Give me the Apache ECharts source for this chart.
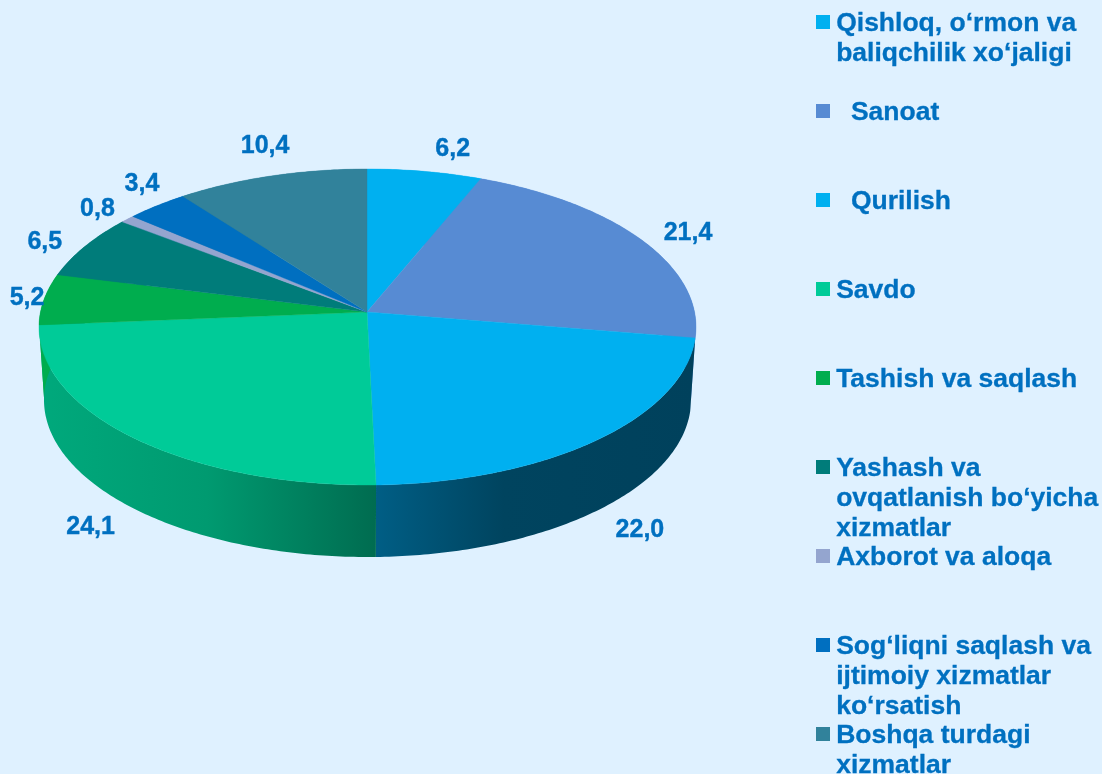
<!DOCTYPE html>
<html>
<head>
<meta charset="utf-8">
<style>html,body{margin:0;padding:0;background:#dff1ff}#c{width:1102px;height:774px}</style>
<script src="https://cdn.jsdelivr.net/npm/echarts@6/dist/echarts.min.js"></script>
</head>
<body>
<div id="c"></div>
<script>
const categories = [
  "Qishloq, o‘rmon va\nbaliqchilik xo‘jaligi",
  "  Sanoat",
  "  Qurilish",
  "Savdo",
  "Tashish va saqlash",
  "Yashash va\novqatlanish bo‘yicha\nxizmatlar",
  "Axborot va aloqa",
  "Sog‘liqni saqlash va\nijtimoiy xizmatlar\nko‘rsatish",
  "Boshqa turdagi\nxizmatlar"
];
const shares = [6.2, 21.4, 22.0, 24.1, 5.2, 6.5, 0.8, 3.4, 10.4];
const shareLabels = ["6,2", "21,4", "22,0", "24,1", "5,2", "6,5", "0,8", "3,4", "10,4"];
const colors = ["#00b0f0", "#578bd3", "#00b0f0", "#00cb98", "#00ad4e", "#007c7a", "#94a5cf", "#006fc0", "#31829b"];

// Drawing geometry: the perspective pie
const INK = "#0070c0";
const FONT = '"Liberation Sans", Arial, sans-serif';
const apex = {x: 367, y: 312};
const topRim = {cx: 367.5, cy: 327, rx: 328.5, ry: 158};
const baseRim = {cx: 367.5, cy: 400, rx: 323.5, ry: 157};
const labelNudge = [[28,-22],[48,-6],[42,91],[-42,90],[-17,-1],[-40,-4],[-30,-10],[-15,-22],[-6,-30]];
const sideShades = {
  2: [[0,"#005e85"],[0.4,"#00445f"],[1,"#00415c"]],
  3: [[0,"#00a97c"],[0.5,"#009a70"],[1,"#006c50"]]
};
const total = shares.reduce((a,b)=>a+b,0);
const cumulative = shares.map((_,i)=>shares.slice(0,i).reduce((a,b)=>a+b,0));

function rimPhi(theta){
  const s=Math.sin(theta), c=Math.cos(theta);
  const ox=(apex.x-topRim.cx)/topRim.rx, oy=(apex.y-topRim.cy)/topRim.ry;
  const b=ox*s-oy*c, k=ox*ox+oy*oy-1;
  const t=-b+Math.sqrt(b*b-k);
  return Math.atan2(oy-t*c, ox+t*s);
}
const onRim=(r,phi)=>[r.cx+r.rx*Math.cos(phi), r.cy+r.ry*Math.sin(phi)];
function angles(i,val){
  const a=cumulative[i]/total*2*Math.PI, b=a+val/total*2*Math.PI;
  const n=Math.max(4,Math.ceil((b-a)*80)), out=[];
  for(let k=0;k<=n;k++) out.push(a+(b-a)*k/n);
  return out;
}

function renderTop(params,api){
  const i=params.dataIndex, val=api.value(0);
  const pts=[[apex.x,apex.y]].concat(angles(i,val).map(t=>onRim(topRim,rimPhi(t))));
  const mid=(cumulative[i]+val/2)/total*2*Math.PI;
  const m=onRim(topRim,rimPhi(mid));
  return {type:'group',children:[
    {type:'polygon',shape:{points:pts},style:{fill:colors[i],stroke:colors[i],lineWidth:0.4}},
    {type:'text',x:m[0]+labelNudge[i][0],y:m[1]+labelNudge[i][1],
     style:{text:shareLabels[i],fill:INK,stroke:INK,lineWidth:0.4,font:'bold 25px '+FONT,align:'center',verticalAlign:'middle'}}
  ]};
}
function renderSide(params,api){
  const i=params.dataIndex, val=api.value(0);
  const phis=angles(i,val).map(rimPhi);
  const upper=phis.map(p=>onRim(topRim,p)), lower=phis.map(p=>onRim(baseRim,p)).reverse();
  const xs=upper.concat(lower).map(p=>p[0]);
  const x0=Math.min(...xs), x1=Math.max(...xs);
  const shade=sideShades[i];
  const fill=shade?{type:'linear',x:x0,y:0,x2:x1,y2:0,global:true,
    colorStops:shade.map(s=>({offset:s[0],color:s[1]}))}:colors[i];
  return {type:'polygon',shape:{points:upper.concat(lower)},style:{fill:fill}};
}

const legendItems = categories.flatMap((name,i)=>[
  {type:'rect',left:816,top:15+89*i,shape:{width:14,height:14},style:{fill:colors[i]}},
  {type:'text',left:836,top:9+89*i,style:{text:name,fill:INK,stroke:INK,lineWidth:0.3,font:'bold 26.5px '+FONT,lineHeight:30}}
]);

const chart=echarts.init(document.getElementById('c'),null,{renderer:'canvas'});
chart.setOption({
  animation:false,
  backgroundColor:'#dff1ff',
  graphic:legendItems,
  series:[
    {type:'custom',name:'side',coordinateSystem:'none',z:1,silent:true,renderItem:renderSide,data:shares.map(v=>[v])},
    {type:'custom',name:'top',coordinateSystem:'none',z:2,silent:true,renderItem:renderTop,data:shares.map(v=>[v])}
  ]
});
</script>
</body>
</html>
